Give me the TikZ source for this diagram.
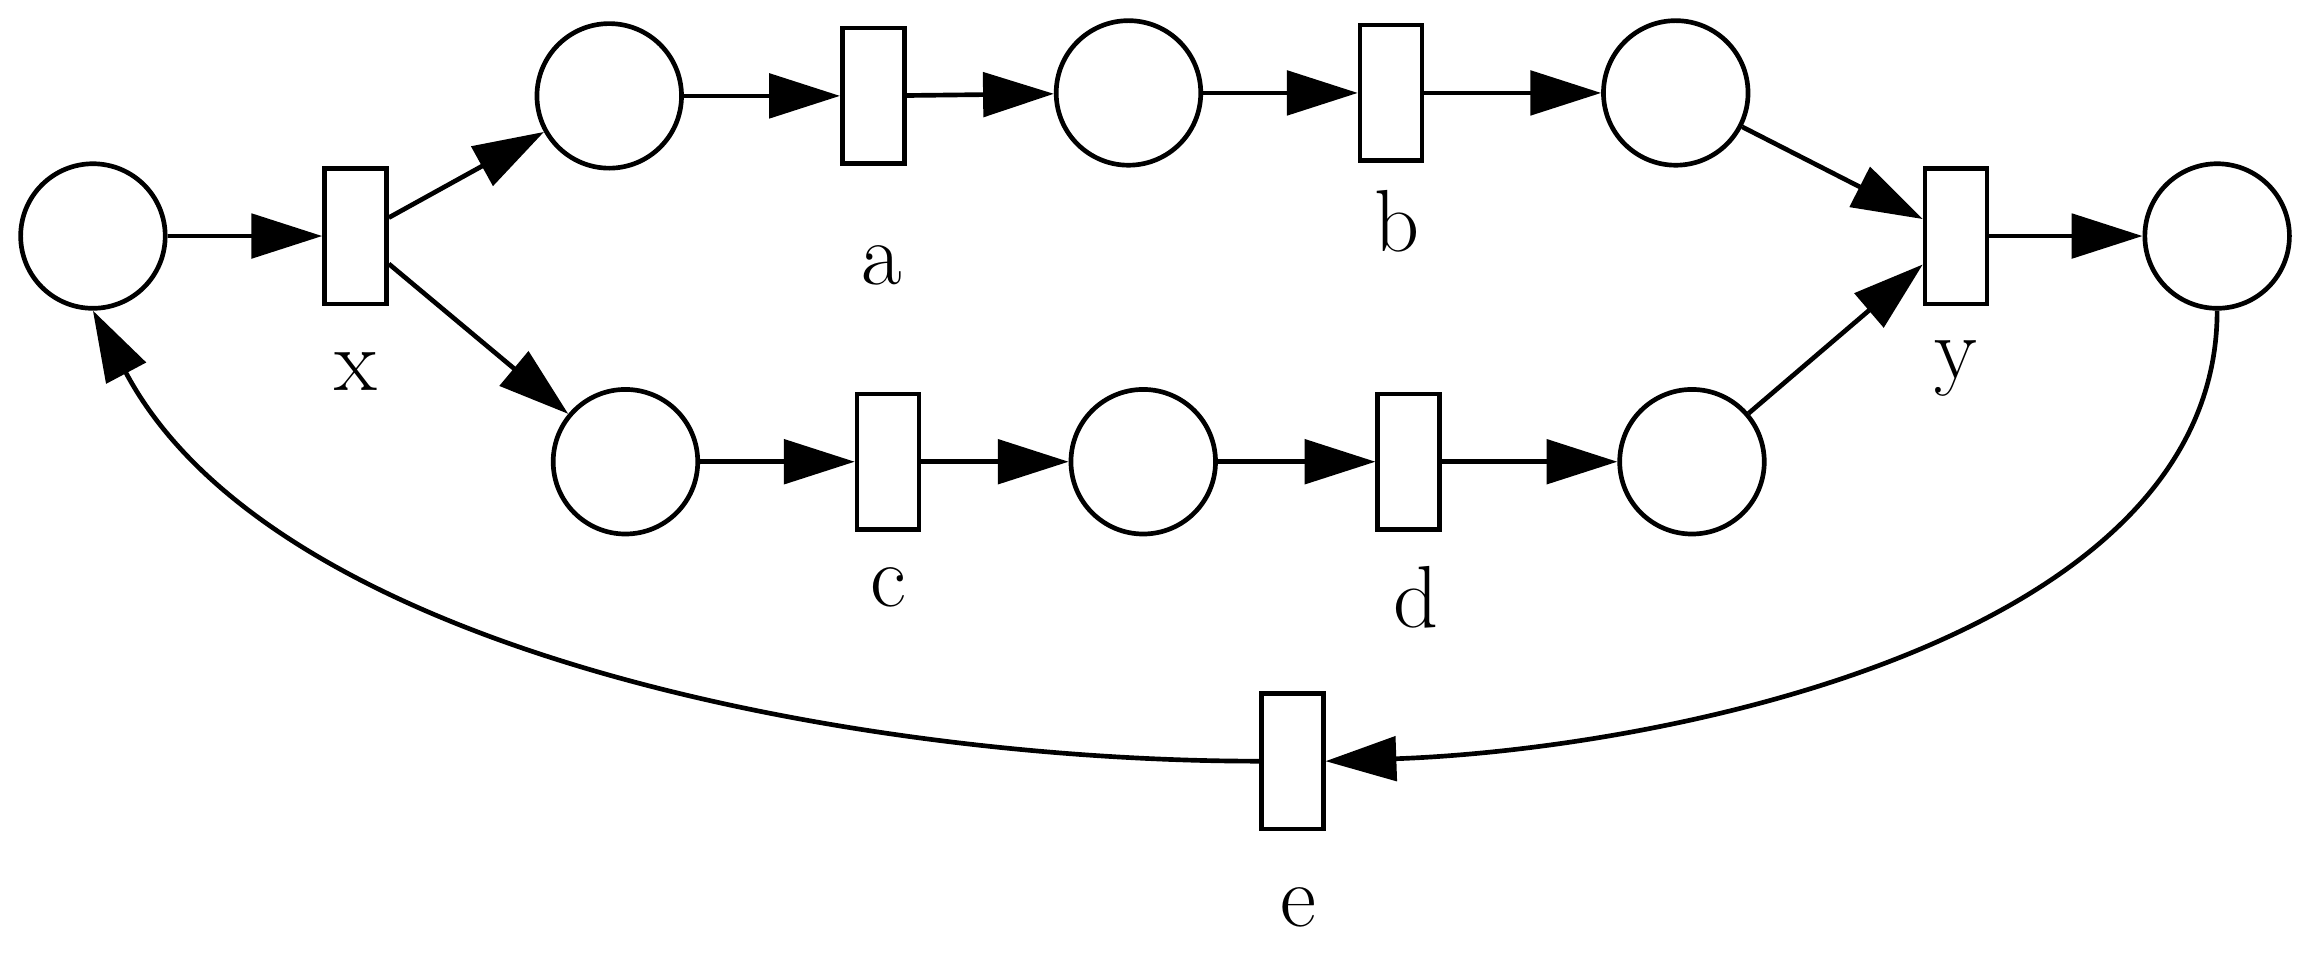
\documentclass[tikz,border=0pt]{standalone}
\usetikzlibrary{arrows.meta}
\begin{document}
\begin{tikzpicture}[
  line width=0.9pt,
  pl/.style={circle,draw,minimum size=0.98cm,inner sep=0pt},
  tr/.style={rectangle,draw,minimum width=0.42cm,minimum height=0.92cm,inner sep=0pt},
  lb/.style={font=\fontsize{17}{20}\selectfont},
  arr/.style={-{Triangle[length=0.48cm,width=0.3cm]}}
]
\useasboundingbox (0,0) rectangle (15.68,-6.55);
\node[pl] (p0) at (0.63,-1.60) {};
\node[tr] (x) at (2.41,-1.60) {};
\node[pl] (p1) at (4.13,-0.65) {};
\node[tr] (a) at (5.92,-0.65) {};
\node[pl] (p2) at (7.65,-0.63) {};
\node[tr] (b) at (9.43,-0.63) {};
\node[pl] (p3) at (11.36,-0.63) {};
\node[tr] (y) at (13.26,-1.60) {};
\node[pl] (p4) at (15.03,-1.60) {};
\node[pl] (p5) at (4.24,-3.13) {};
\node[tr] (c) at (6.02,-3.13) {};
\node[pl] (p6) at (7.75,-3.13) {};
\node[tr] (d) at (9.55,-3.13) {};
\node[pl] (p7) at (11.47,-3.13) {};
\node[tr] (e) at (8.76,-5.16) {};
\node[lb] (lx) at (2.41,-2.52) {x};
\node[lb] (la) at (5.98,-1.80) {a};
\node[lb] (lb) at (9.47,-1.50) {b};
\node[lb] (ly) at (13.26,-2.50) {y};
\node[lb] (lc) at (6.02,-3.98) {c};
\node[lb] (ld) at (9.60,-4.05) {d};
\node[lb] (le) at (8.80,-6.15) {e};
\draw[arr] (p0) -- (x);
\draw[arr] (x) -- (p1);
\draw[arr] (x) -- (p5);
\draw[arr] (p1) -- (a);
\draw[arr] (a) -- (p2);
\draw[arr] (p2) -- (b);
\draw[arr] (b) -- (p3);
\draw[arr] (p3) -- (y);
\draw[arr] (y) -- (p4);
\draw[arr] (p5) -- (c);
\draw[arr] (c) -- (p6);
\draw[arr] (p6) -- (d);
\draw[arr] (d) -- (p7);
\draw[arr] (p7) -- (y);
\draw[arr] (p4.south) to[out=-90,in=2,looseness=0.85] (e.east);
\draw[arr] (e.west) to[out=180,in=-62,looseness=0.8] (p0.south);
\end{tikzpicture}
\end{document}
